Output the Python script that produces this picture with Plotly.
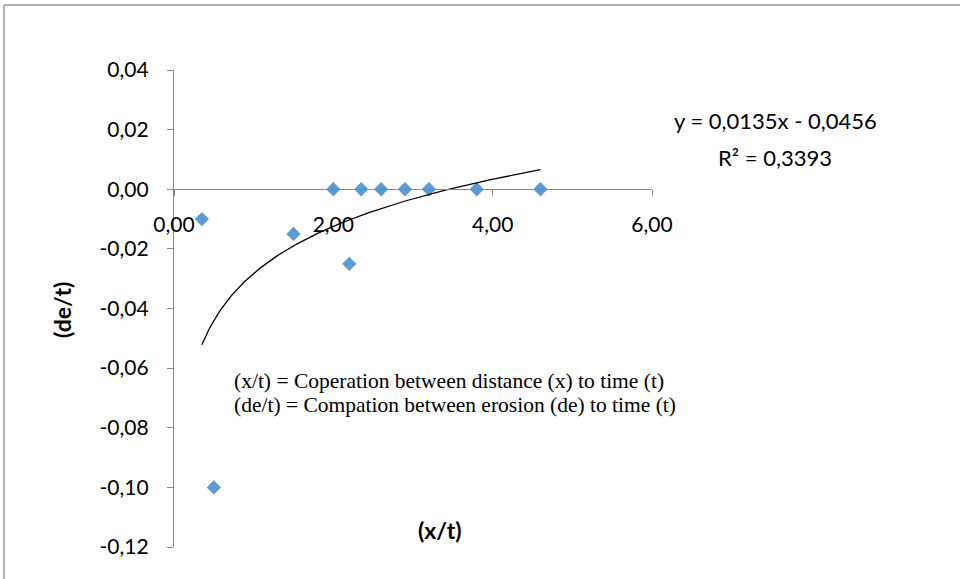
import numpy as np
import plotly.graph_objects as go

# Data
x_vals = [0.35, 0.50, 1.50, 2.00, 2.20, 2.35, 2.60, 2.90, 3.20, 3.80, 4.60]
y_vals = [-0.010, -0.100, -0.015, 0.000, -0.025, 0.000, 0.000, 0.000, 0.000, 0.000, 0.000]
x_ticks = [0, 2, 4, 6]
y_ticks = [0.04, 0.02, 0.00, -0.02, -0.04, -0.06, -0.08, -0.10, -0.12]
eq_text = "y = 0,0135x - 0,0456"
r2_text = "R² = 0,3393"
note_lines = ["(x/t) = Coperation between distance (x) to time (t)",
              "(de/t) = Compation between erosion (de) to time (t)"]
x_title = "(x/t)"
y_title = "(de/t)"


def fmt(v):
    return f"{v:.2f}".replace(".", ",")


# Logarithmic trendline fitted to the data
a, b = np.polyfit(np.log(x_vals), y_vals, 1)
tx = np.linspace(min(x_vals), max(x_vals), 200)
ty = a * np.log(tx) + b

FONT = "Lato, Open Sans, sans-serif"
SERIF = "Liberation Serif, Times New Roman, serif"

fig = go.Figure()
fig.add_trace(go.Scatter(x=x_vals, y=y_vals, mode="markers",
                         marker=dict(symbol="diamond", size=11, color="#5b9bd5",
                                     line=dict(width=0)),
                         showlegend=False))
fig.add_trace(go.Scatter(x=tx, y=ty, mode="lines",
                         line=dict(color="black", width=1.3),
                         showlegend=False))

y_lo, y_hi = -0.12, 0.04
zero_pos = (0 - y_lo) / (y_hi - y_lo)

# plot area in page pixels
PL, PR, PT, PB = 174, 652, 70, 547
W, H = 960, 579


def px_x(v):
    return (v - PL) / (PR - PL)


def px_y(v):
    return (PB - v) / (PB - PT)


fig.update_layout(
    width=W, height=H,
    margin=dict(l=PL, r=W - PR, t=PT, b=H - PB),
    paper_bgcolor="white", plot_bgcolor="white",
    font=dict(family=FONT, size=21, color="black"),
    xaxis=dict(range=[0, 6], tickvals=x_ticks, ticktext=[fmt(v) for v in x_ticks],
               anchor="free", position=zero_pos,
               showline=True, linecolor="#868686", linewidth=1.3,
               ticks="outside", ticklen=6, tickcolor="#868686",
               ticklabelstandoff=10,
               showgrid=False, zeroline=False,
               tickfont=dict(family=FONT, size=21)),
    yaxis=dict(range=[y_lo, y_hi], tickvals=y_ticks, ticktext=[fmt(v) for v in y_ticks],
               showline=True, linecolor="#868686", linewidth=1.3,
               ticks="outside", ticklen=6, tickcolor="#868686",
               ticklabelstandoff=14,
               showgrid=False, zeroline=False,
               tickfont=dict(family=FONT, size=21)),
)

# Outer chart border: only top and left edges are inside the picture
border = dict(color="#9a9a9a", width=1.5)
fig.add_shape(type="line", xref="paper", yref="paper",
              x0=px_x(4), x1=px_x(W + 40), y0=px_y(5), y1=px_y(5),
              line=border, layer="below")
fig.add_shape(type="line", xref="paper", yref="paper",
              x0=px_x(4), x1=px_x(4), y0=px_y(5), y1=px_y(H + 40),
              line=border, layer="below")

# Trendline equation
fig.add_annotation(xref="paper", yref="paper", x=px_x(775), y=px_y(120),
                   text=eq_text, showarrow=False,
                   font=dict(family=FONT, size=22), xanchor="center", yanchor="middle")
fig.add_annotation(xref="paper", yref="paper", x=px_x(775), y=px_y(157),
                   text=r2_text, showarrow=False,
                   font=dict(family=FONT, size=22), xanchor="center", yanchor="middle")

# Notes
for i, line in enumerate(note_lines):
    fig.add_annotation(xref="paper", yref="paper", x=px_x(232), y=px_y(381 + 24 * i),
                       text=line, showarrow=False, xanchor="left", yanchor="middle",
                       font=dict(family=SERIF, size=21.5))

# Axis titles
fig.add_annotation(xref="paper", yref="paper", x=px_x(440), y=px_y(530),
                   text="<b>" + x_title + "</b>", showarrow=False,
                   xanchor="center", yanchor="middle",
                   font=dict(family=FONT, size=23))
fig.add_annotation(xref="paper", yref="paper", x=px_x(62), y=px_y(310),
                   text="<b>" + y_title + "</b>", showarrow=False, textangle=-90,
                   xanchor="center", yanchor="middle",
                   font=dict(family=FONT, size=23))

fig.write_html("out.html", config={"displayModeBar": False},
               post_script="document.body.style.margin='0';document.body.style.overflow='hidden';")
